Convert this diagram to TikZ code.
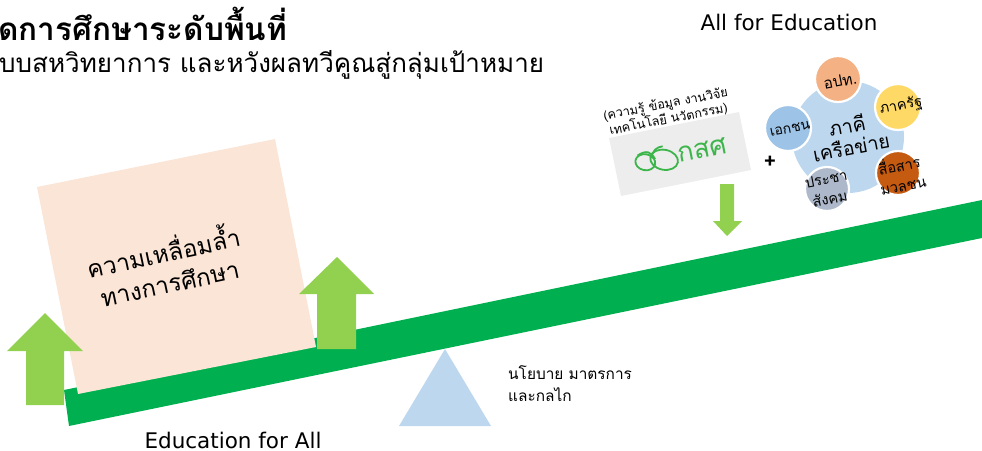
\documentclass[tikz,border=0pt]{standalone}
\usepackage{fontspec}
\newfontfamily\thaifont[Script=Thai]{Loma}
\newfontfamily\latinfont{DejaVu Sans}
\definecolor{beamgreen}{HTML}{00B050}
\definecolor{arrowgreen}{HTML}{92D050}
\definecolor{squarepeach}{HTML}{FBE5D6}
\definecolor{skyblue}{HTML}{BDD7EE}
\definecolor{boxgray}{HTML}{EDEDED}
\definecolor{logogreen}{HTML}{3CB54A}
\tikzset{
  actor/.style={draw=white,line width=2.2pt},
  label/.style={inner sep=0pt,align=center,text=black,font=\thaifont},
}
\begin{document}
\begin{tikzpicture}[x=1pt,y=-1pt]
\useasboundingbox (0,0) rectangle (982,450);
\tikzstyle{every node}+=[inner sep=0pt]
% heading
\node [label,anchor=west,font=\thaifont\bfseries\fontsize{31.5}{34}\selectfont] (title) at (-2,24) {ดการศึกษาระดับพื้นที่};
\node [label,anchor=west,font=\thaifont\fontsize{26}{29}\selectfont] (subtitle) at (-1,65) {บบสหวิทยาการ และหวังผลทวีคูณสู่กลุ่มเป้าหมาย};
\node [label,font=\latinfont\fontsize{21.5}{20}\selectfont] (allfor) at (789,22) {All for Education};
\node [label,font=\latinfont\fontsize{21.5}{20}\selectfont] (edufor) at (233,440) {Education for All};
% lever
\fill [beamgreen] (64,390) -- (982,200) -- (982,238) -- (69,426) -- cycle;
\fill [skyblue] (445,349) -- (491,426) -- (399,426) -- cycle;
\node [label,align=left,anchor=west,font=\thaifont\fontsize{15.4}{22}\selectfont] (policy) at (508,384) {นโยบาย มาตรการ\\และกลไก};
% weight
\fill [squarepeach] (37,187) -- (275,139) -- (316,347) -- (78,394) -- cycle;
\node [label,rotate=12,font=\thaifont\fontsize{24}{31}\selectfont] (gap) at (166,265) {ความเหลื่อมล้ำ\\ทางการศึกษา};
% up arrows
\fill [arrowgreen] (45,313) -- (83,351) -- (64,351) -- (64,405) -- (26,405) -- (26,351) -- (7,351) -- cycle;
\fill [arrowgreen] (337,257) -- (374,294) -- (356,294) -- (356,349) -- (317,349) -- (317,294) -- (299,294) -- cycle;
% logo box
\fill [boxgray] (609,138) -- (739,112) -- (751,170) -- (621,196) -- cycle;
\node [label,rotate=11,font=\thaifont\fontsize{12.6}{15.5}\selectfont] (knowledge) at (667,112) {(ความรู้ ข้อมูล งานวิจัย\\เทคโนโลยี นวัตกรรม)};
\begin{scope}[rotate around={-11:(660,160)}]
\draw [logogreen,line width=1.8pt] (664,159) ellipse (14 and 10);
\draw [logogreen,line width=1.8pt] (646,165) ellipse (10 and 8);
\draw [logogreen,line width=1.8pt] (637,160) .. controls (645,152) and (650,154) .. (655,160);
\draw [logogreen,line width=1.8pt] (651,160) .. controls (651,152) and (654,148) .. (660,146);
\end{scope}
\node [label,rotate=11,text=logogreen,font=\thaifont\fontsize{27}{29}\selectfont] (oeqe) at (702,150) {กสศ};
\fill [arrowgreen] (720,184) -- (734,184) -- (734,221) -- (742,221) -- (727,236) -- (713,221) -- (720,221) -- cycle;
\node [label,font=\thaifont\bfseries\fontsize{21}{23}\selectfont] (plus) at (770,162) {+};
% network
\fill [skyblue] (848,137) circle (56);
\node [label,rotate=11,font=\thaifont\fontsize{19.5}{22}\selectfont] (network) at (849,136) {ภาคี\\เครือข่าย};
\draw [actor,fill={rgb,255:red,244;green,177;blue,131}] (838,79) circle (23);
\draw [actor,fill={rgb,255:red,255;green,217;blue,102}] (898,107) circle (23);
\draw [actor,fill={rgb,255:red,197;green,90;blue,17}] (898,173) circle (22);
\draw [actor,fill={rgb,255:red,173;green,185;blue,202}] (827,189) circle (22);
\draw [actor,fill={rgb,255:red,157;green,195;blue,230}] (788,128) circle (23);
\node [label,rotate=11,font=\thaifont\fontsize{15.5}{17}\selectfont] (local) at (840,81) {อปท.};
\node [label,rotate=11,font=\thaifont\fontsize{14.5}{17}\selectfont] (state) at (901,106) {ภาครัฐ};
\node [label,rotate=11,font=\thaifont\fontsize{14.5}{20}\selectfont] (media) at (901,174) {สื่อสาร\\มวลชน};
\node [label,rotate=11,font=\thaifont\fontsize{14.5}{20}\selectfont] (society) at (828,189) {ประชา\\สังคม};
\node [label,rotate=11,font=\thaifont\fontsize{14}{17}\selectfont] (private) at (790,129) {เอกชน};
\end{tikzpicture}
\end{document}
